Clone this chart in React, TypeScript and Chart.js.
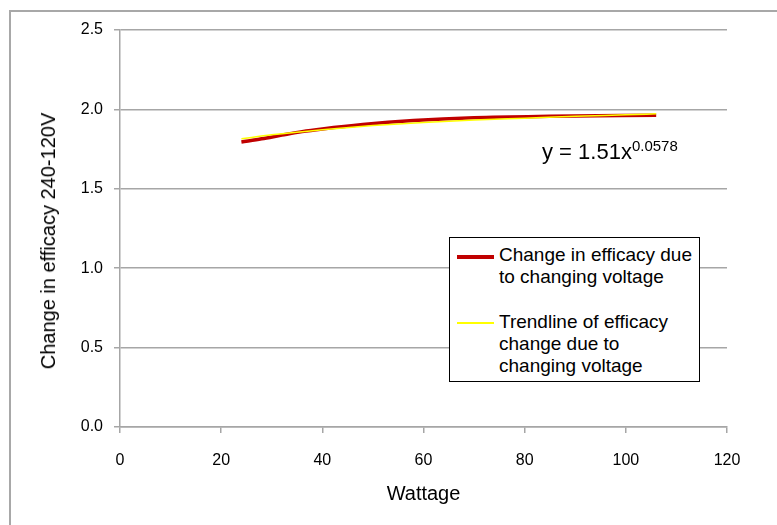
import { useEffect, useRef } from "react";
import { Chart, registerables } from "chart.js";

Chart.register(...registerables);

// ---- data ----
const effWatts = [24, 28, 32, 36, 40, 48, 58, 70, 85, 106];
const effValues = [1.795, 1.815, 1.838, 1.86, 1.877, 1.905, 1.93, 1.948, 1.957, 1.963];
const trendWatts = [24, 30, 40, 50, 60, 70, 80, 90, 100, 106];
const trendValues = [1.815, 1.84, 1.872, 1.898, 1.918, 1.933, 1.945, 1.957, 1.966, 1.972];
const xTicks = [0, 20, 40, 60, 80, 100, 120];
const yTicks = [0, 0.5, 1.0, 1.5, 2.0, 2.5];
const xTitle = "Wattage";
const yTitle = "Change in efficacy 240-120V";
const effLegend = ["Change in efficacy due", "to changing voltage"];
const trendLegend = ["Trendline of efficacy", "change due to", "changing voltage"];
const eqMain = "y = 1.51x";
const eqExp = "0.0578";

const FONT = "'Liberation Sans', Arial, sans-serif";
const GRID = "#a6a6a6";
const RED = "#C00000";
const YELLOW = "#FFFF00";

export default function App() {
  const ref = useRef<HTMLCanvasElement | null>(null);

  useEffect(() => {
    document.body.style.margin = "0";
    const canvas = ref.current;
    if (!canvas) return;
    const chart = new Chart(canvas, {
      type: "line",
      data: {
        datasets: [
          {
            label: effLegend.join(" "),
            data: effWatts.map((x, i) => ({ x, y: effValues[i] })),
            borderColor: RED,
            borderWidth: 3.5,
            pointRadius: 0,
            cubicInterpolationMode: "monotone",
            fill: false,
            order: 1,
          },
          {
            label: trendLegend.join(" "),
            data: trendWatts.map((x, i) => ({ x, y: trendValues[i] })),
            borderColor: YELLOW,
            borderWidth: 1.5,
            pointRadius: 0,
            cubicInterpolationMode: "monotone",
            fill: false,
            order: 0,
          },
        ],
      },
      options: {
        animation: false,
        responsive: false,
        maintainAspectRatio: false,
        layout: { padding: { left: 0, top: 30, right: 50, bottom: 0 } },
        plugins: { legend: { display: false }, tooltip: { enabled: false } },
        scales: {
          x: {
            type: "linear",
            min: 0,
            max: 120,
            afterBuildTicks: (s: any) => {
              s.ticks = xTicks.map((v) => ({ value: v }));
            },
            afterFit: (s: any) => {
              s.height = 98;
            },
            grid: { drawOnChartArea: false, drawTicks: true, tickLength: 6, color: GRID, lineWidth: 1.5 },
            border: { color: GRID, width: 1.5 },
            ticks: {
              padding: 18,
              color: "#000",
              maxRotation: 0,
              font: { family: FONT, size: 16 },
            },
            title: {
              display: true,
              text: xTitle,
              color: "#000",
              font: { family: FONT, size: 20 },
              padding: { top: 0, bottom: 19 },
            },
          },
          y: {
            type: "linear",
            min: 0,
            max: 2.5,
            afterBuildTicks: (s: any) => {
              s.ticks = yTicks.map((v) => ({ value: v }));
            },
            afterFit: (s: any) => {
              s.width = 120;
            },
            grid: { color: GRID, tickLength: 6, lineWidth: 1.5 },
            border: { color: GRID, width: 1.5 },
            ticks: {
              padding: 11,
              color: "#000",
              font: { family: FONT, size: 16 },
              callback: (v: any) => Number(v).toFixed(1),
            },
            title: { display: false },
          },
        },
      },
    });
    return () => chart.destroy();
  }, []);

  const textStyle: React.CSSProperties = {
    fontFamily: FONT,
    fontSize: 19,
    lineHeight: "22px",
    color: "#000",
    whiteSpace: "nowrap",
  };

  return (
    <div style={{ position: "relative", width: 777, height: 525, overflow: "hidden", background: "#fff" }}>
      <div
        style={{
          position: "absolute",
          left: 9,
          top: 10,
          width: 800,
          height: 600,
          borderLeft: "2px solid #a8a8a8",
          borderTop: "2px solid #a8a8a8",
        }}
      />
      <canvas ref={ref} width={777} height={525} style={{ position: "absolute", left: 0, top: 0, width: 777, height: 525 }} />
      <div
        style={{
          position: "absolute",
          left: 48,
          top: 241,
          transform: "translate(-50%, -50%) rotate(-90deg)",
          fontFamily: FONT,
          fontSize: 20,
          lineHeight: "24px",
          whiteSpace: "nowrap",
          color: "#000",
        }}
      >
        {yTitle}
      </div>
      <div
        style={{
          position: "absolute",
          left: 542,
          top: 139,
          fontFamily: FONT,
          fontSize: 22,
          lineHeight: "26px",
          whiteSpace: "nowrap",
          color: "#000",
        }}
      >
        {eqMain}
        <sup style={{ fontSize: 15, verticalAlign: "8px", lineHeight: 0 }}>{eqExp}</sup>
      </div>
      <div
        style={{
          position: "absolute",
          left: 449,
          top: 237,
          width: 249,
          height: 143,
          border: "1px solid #000",
          background: "#fff",
        }}
      >
        <div style={{ position: "absolute", left: 7, top: 17, width: 37, height: 3.5, background: RED }} />
        <div style={{ ...textStyle, position: "absolute", left: 49, top: 6 }}>
          {effLegend.map((t) => (
            <div key={t}>{t}</div>
          ))}
        </div>
        <div style={{ position: "absolute", left: 7, top: 84, width: 37, height: 1.5, background: YELLOW }} />
        <div style={{ ...textStyle, position: "absolute", left: 49, top: 73 }}>
          {trendLegend.map((t) => (
            <div key={t}>{t}</div>
          ))}
        </div>
      </div>
    </div>
  );
}
